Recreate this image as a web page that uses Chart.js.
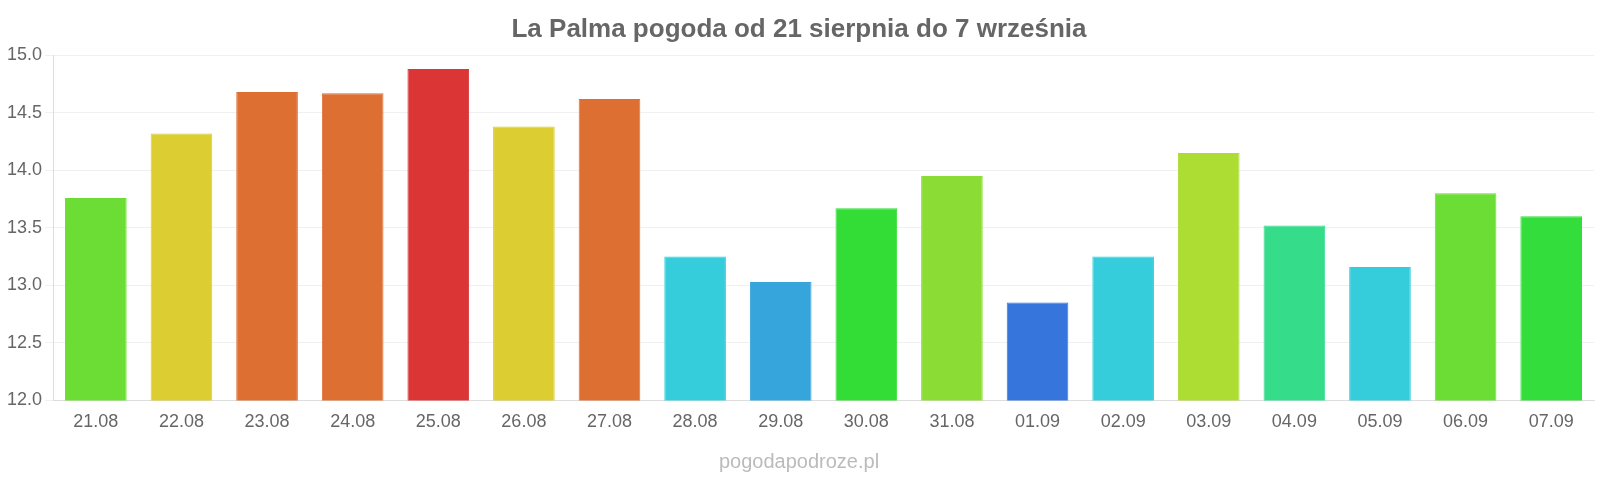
<!DOCTYPE html>
<html><head><meta charset="utf-8">
<script src="https://cdn.jsdelivr.net/npm/chart.js@4"></script>
<style>html,body{margin:0;padding:0;background:#fff;overflow:hidden}#w{width:1600px;height:480px;position:relative}</style>
</head><body><div id="w"><canvas id="c"></canvas></div>
<script>
const categories=["21.08","22.08","23.08","24.08","25.08","26.08","27.08","28.08","29.08","30.08","31.08","01.09","02.09","03.09","04.09","05.09","06.09","07.09"];
const values=[13.76,14.32,14.68,14.67,14.88,14.38,14.62,13.25,13.03,13.67,13.95,12.85,13.25,14.15,13.52,13.16,13.80,13.60];
const colors=["#6bdd35","#dccd33","#de6f33","#de6f33","#dc3535","#dccd33","#de6f33","#35cddc","#35a5dc","#33dd35","#8bdd35","#3575dc","#35cddc","#addd33","#35dd8b","#35cddc","#6bdd35","#33dd3c"];
const yTicks=[12.0,12.5,13.0,13.5,14.0,14.5,15.0];
new Chart(document.getElementById('c'),{
 type:'bar',
 data:{labels:categories,datasets:[{data:values,backgroundColor:colors,borderColor:colors.map(c=>c),borderWidth:1,categoryPercentage:0.72,barPercentage:1}]},
 options:{responsive:true,maintainAspectRatio:false,animation:false,
  layout:{padding:{left:4,right:6,top:0,bottom:0}},
  plugins:{legend:{display:false},tooltip:{enabled:false},
   title:{display:true,text:'La Palma pogoda od 21 sierpnia do 7 września',color:'#666',font:{family:'Liberation Sans',size:26,weight:'bold'},padding:{top:14,bottom:10}},
   subtitle:{display:true,position:'bottom',text:'pogodapodroze.pl',color:'#bbb',font:{family:'Liberation Sans',size:20},padding:{top:14,bottom:6}}},
  scales:{
   x:{grid:{display:false},border:{color:'#ddd'},ticks:{color:'#666',font:{family:'Liberation Sans',size:18}}},
   y:{min:12,max:15,afterBuildTicks:a=>{a.ticks=yTicks.map(v=>({value:v}));},
      grid:{color:'#f0f0f0'},border:{color:'#ddd'},
      ticks:{color:'#666',font:{family:'Liberation Sans',size:18},callback:v=>v.toFixed(1)}}
  }}
});
</script></body></html>
